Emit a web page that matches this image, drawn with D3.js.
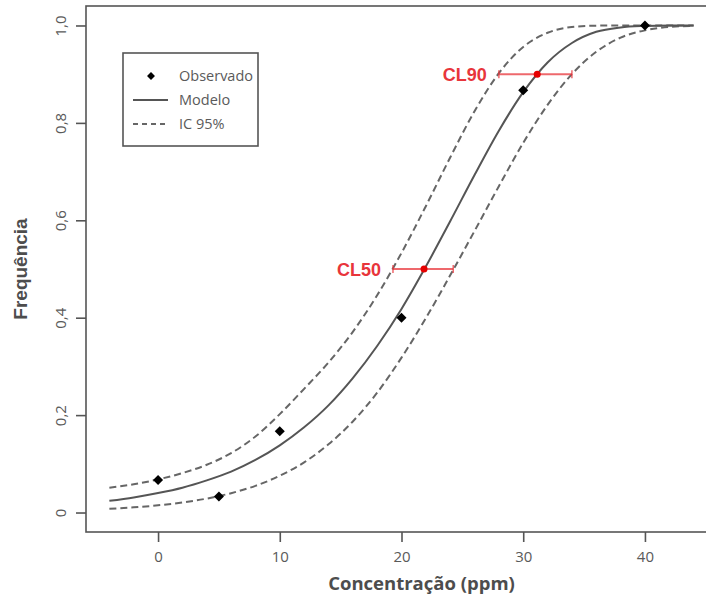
<!DOCTYPE html>
<html>
<head>
<meta charset="utf-8">
<script src="https://cdn.jsdelivr.net/npm/d3@7"></script>
<style>
  html, body { margin: 0; padding: 0; background: #fff; }
  svg { display: block; }
</style>
</head>
<body>
<svg id="chart" width="706" height="598"></svg>
<script>
// Observed mortality frequency per concentration
const concentracao = [0, 5, 10, 20, 30, 40];
const observado = [0.067, 0.033, 0.167, 0.4, 0.867, 1.0];

// Fitted model curve and 95% confidence band, sampled along the concentration axis
const gradeX = [-4, -2, 0, 2, 4, 6, 8, 10, 12, 14, 16, 18, 20, 22, 24, 26, 28, 30, 32, 34, 36, 38, 40, 42, 44];
const modelo = [0.024, 0.031, 0.040, 0.051, 0.066, 0.084, 0.108, 0.138, 0.175, 0.220, 0.276, 0.342, 0.418, 0.505, 0.598, 0.693, 0.784, 0.863, 0.924, 0.964, 0.987, 0.996, 0.999, 1.0, 1.0];
const icSuperior = [0.051, 0.058, 0.068, 0.081, 0.098, 0.122, 0.156, 0.202, 0.254, 0.308, 0.371, 0.446, 0.533, 0.629, 0.729, 0.824, 0.902, 0.956, 0.985, 0.997, 0.9996, 1.0, 1.0, 1.0, 1.0];
const icInferior = [0.0076, 0.0106, 0.0148, 0.0206, 0.0286, 0.0397, 0.0548, 0.0755, 0.103, 0.140, 0.187, 0.246, 0.318, 0.399, 0.487, 0.578, 0.670, 0.759, 0.837, 0.900, 0.946, 0.975, 0.990, 0.997, 0.999];

// Lethal concentrations with their confidence limits
const clRotulos = ["CL50", "CL90"];
const clFrequencia = [0.5, 0.9];
const clEstimativa = [21.85, 31.15];
const clInferior = [19.3, 28.0];
const clSuperior = [24.25, 34.0];

// Axis ticks
const xTicks = [0, 10, 20, 30, 40];
const yTicks = [0, 0.2, 0.4, 0.6, 0.8, 1.0];
const yTickLabels = ["0", "0,2", "0,4", "0,6", "0,8", "1,0"];

// Legend entries
const legendaRotulos = ["Observado", "Modelo", "IC 95%"];

const svg = d3.select("#chart");
const box = { left: 86, right: 717, top: 6, bottom: 532 };

const x = d3.scaleLinear().domain([-5.92, 45.92]).range([box.left, box.right]);
const y = d3.scaleLinear().domain([-0.04, 1.04]).range([box.bottom, box.top]);

const grey = "#555";
const labelGrey = "#5a5a5a";
const red = "#e8353b";

// Plot frame
svg.append("rect")
  .attr("x", box.left).attr("y", box.top)
  .attr("width", box.right - box.left).attr("height", box.bottom - box.top)
  .attr("fill", "none").attr("stroke", grey).attr("stroke-width", 1.6);

// Axes
const xAxis = d3.axisBottom(x).tickValues(xTicks).tickSize(10).tickPadding(9).tickFormat(d3.format("d"));
const gx = svg.append("g").attr("transform", `translate(0,${box.bottom})`).call(xAxis);
gx.select(".domain").remove();
gx.selectAll(".tick line").attr("stroke", grey).attr("stroke-width", 1.6);
gx.selectAll(".tick text")
  .attr("fill", labelGrey).attr("font-family", "'Open Sans', sans-serif").attr("font-size", 15);

const yAxis = d3.axisLeft(y).tickValues(yTicks).tickSize(10).tickFormat((d, i) => yTickLabels[i]);
const gy = svg.append("g").attr("transform", `translate(${box.left},0)`).call(yAxis);
gy.select(".domain").remove();
gy.selectAll(".tick line").attr("stroke", grey).attr("stroke-width", 1.6);
gy.selectAll(".tick text")
  .attr("fill", labelGrey).attr("font-family", "'Open Sans', sans-serif").attr("font-size", 15)
  .attr("x", null).attr("dy", null)
  .attr("text-anchor", "middle")
  .attr("transform", "translate(-20,0) rotate(-90)");

// Axis titles
svg.append("text")
  .attr("x", (x(0) + x(40)) / 2 + 20).attr("y", 590)
  .attr("text-anchor", "middle")
  .attr("fill", "#4d4d4d")
  .attr("font-family", "'Open Sans', sans-serif").attr("font-weight", "bold").attr("font-size", 18.5)
  .text("Concentração (ppm)");

svg.append("text")
  .attr("transform", `translate(27,${y(0.5)}) rotate(-90)`)
  .attr("text-anchor", "middle")
  .attr("fill", "#4d4d4d")
  .attr("font-family", "'Liberation Sans', Arial, sans-serif").attr("font-weight", "bold").attr("font-size", 19)
  .text("Frequência");

// Curves
const curva = vals => d3.line()
  .x((d, i) => x(gradeX[i]))
  .y(d => y(d))
  .curve(d3.curveMonotoneX)(vals);

svg.append("path").attr("d", curva(icSuperior))
  .attr("fill", "none").attr("stroke", "#666").attr("stroke-width", 2).attr("stroke-dasharray", "7,4");
svg.append("path").attr("d", curva(icInferior))
  .attr("fill", "none").attr("stroke", "#666").attr("stroke-width", 2).attr("stroke-dasharray", "7,4");
svg.append("path").attr("d", curva(modelo))
  .attr("fill", "none").attr("stroke", grey).attr("stroke-width", 2);

// Observed points (filled diamonds)
const diamante = d3.symbol().type(d3.symbolDiamond2).size(64);
svg.append("g").selectAll("path")
  .data(concentracao)
  .join("path")
  .attr("d", diamante)
  .attr("transform", (d, i) => `translate(${x(d)},${y(observado[i])})`)
  .attr("fill", "#000");

// Lethal concentration intervals
const cl = svg.append("g");
clRotulos.forEach((rot, i) => {
  const yy = y(clFrequencia[i]);
  cl.append("line")
    .attr("x1", x(clInferior[i])).attr("x2", x(clSuperior[i]))
    .attr("y1", yy).attr("y2", yy)
    .attr("stroke", red).attr("stroke-opacity", 0.75).attr("stroke-width", 2);
  [clInferior[i], clSuperior[i]].forEach(v => {
    cl.append("line")
      .attr("x1", x(v)).attr("x2", x(v))
      .attr("y1", yy - 4).attr("y2", yy + 4)
      .attr("stroke", red).attr("stroke-opacity", 0.75).attr("stroke-width", 1.5);
  });
  cl.append("circle")
    .attr("cx", x(clEstimativa[i])).attr("cy", yy).attr("r", 3.5)
    .attr("fill", "#e60000");
  cl.append("text")
    .attr("x", x(clInferior[i]) - 12).attr("y", yy + 6.5)
    .attr("text-anchor", "end")
    .attr("fill", red)
    .attr("font-family", "'Liberation Sans', Arial, sans-serif").attr("font-weight", "bold").attr("font-size", 18)
    .text(rot);
});

// Legend
const leg = svg.append("g");
leg.append("rect")
  .attr("x", 123).attr("y", 53).attr("width", 135).attr("height", 93)
  .attr("fill", "#fff").attr("stroke", grey).attr("stroke-width", 1.6);
const linhasLegenda = [76, 100, 124];
leg.append("path")
  .attr("d", d3.symbol().type(d3.symbolDiamond2).size(40))
  .attr("transform", `translate(151,${linhasLegenda[0]})`)
  .attr("fill", "#000");
leg.append("line")
  .attr("x1", 133).attr("x2", 168).attr("y1", linhasLegenda[1]).attr("y2", linhasLegenda[1])
  .attr("stroke", grey).attr("stroke-width", 2);
leg.append("line")
  .attr("x1", 133).attr("x2", 168).attr("y1", linhasLegenda[2]).attr("y2", linhasLegenda[2])
  .attr("stroke", "#666").attr("stroke-width", 2).attr("stroke-dasharray", "5,4");
leg.selectAll("text.rot")
  .data(legendaRotulos)
  .join("text")
  .attr("class", "rot")
  .attr("x", 179).attr("y", (d, i) => linhasLegenda[i] + 5)
  .attr("fill", labelGrey)
  .attr("font-family", "'Open Sans', sans-serif").attr("font-size", 14.5)
  .text(d => d);
</script>
</body>
</html>
